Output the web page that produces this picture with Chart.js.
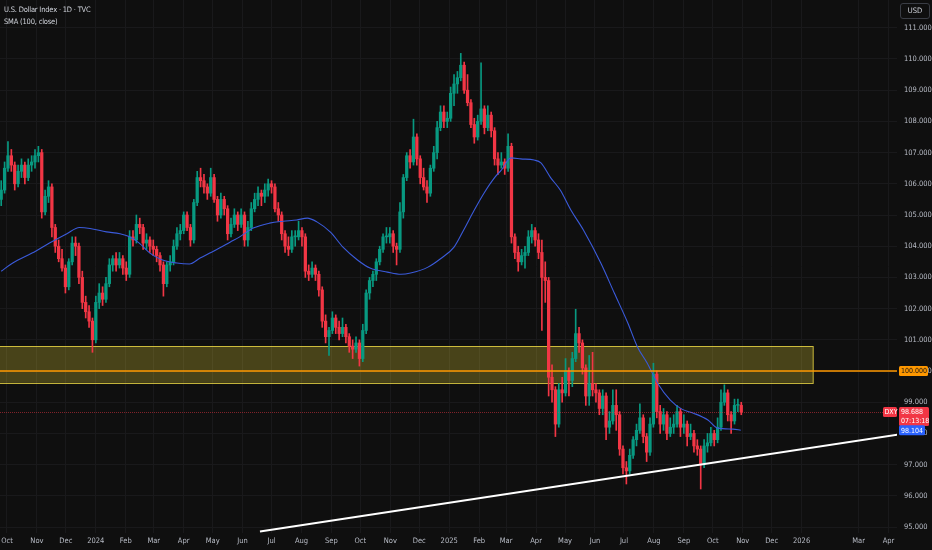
<!DOCTYPE html>
<html lang="en">

<head>
    <meta charset="UTF-8">
    <title>U.S. Dollar Index · 1D · TVC</title>
    <script src="https://cdn.jsdelivr.net/npm/chart.js"></script>
    <style>
        html,
        body {
            margin: 0;
            padding: 0;
            background: #0f0f0f;
        }

        .wrap {
            position: relative;
            width: 932px;
            height: 550px;
        }

        .legend {
            position: absolute;
            left: 4px;
            top: 4px;
            color: #d1d4dc;
            font-family: "DejaVu Sans Condensed", "Liberation Sans Narrow", "DejaVu Sans", sans-serif;
            font-stretch: condensed;
            font-size: 7.5px;
            letter-spacing: -0.2px;
            line-height: 12px;
        }

        .usd {
            position: absolute;
            left: 900px;
            top: 3px;
            width: 28px;
            height: 14px;
            border: 1px solid #3a3d45;
            border-radius: 3px;
            color: #d1d4dc;
            font-family: "DejaVu Sans Condensed", "Liberation Sans Narrow", "DejaVu Sans", sans-serif;
            font-stretch: condensed;
            font-size: 7.5px;
            line-height: 14px;
            text-align: center;
        }
    </style>
</head>

<body>
    <div class="wrap">
        <canvas id="dxyChart"></canvas>
        <div class="legend">U.S. Dollar Index · 1D · TVC<br>SMA (100, close)</div>
        <div class="usd">USD</div>
    </div>

    <script>
        // half-week candles, starting Mon 25 Sep 2023
        const firstCandle = '2023-09-25';
        const candleStep = 3.5;

        const opens = [
            105.5, 105.8, 106.5, 106.9, 106.6, 106.0, 106.4, 106.6, 106.2, 106.6,
            106.7, 106.9, 107.0, 105.1, 105.6, 105.9, 104.6, 104.0, 103.6, 103.3,
            102.7, 103.5, 104.1, 104.0, 103.0, 102.2, 101.9, 101.6, 101.0, 102.2,
            102.5, 102.3, 102.8, 103.4, 103.6, 103.4, 103.6, 103.3, 103.1, 104.3,
            104.2, 104.7, 104.6, 104.1, 104.2, 104.0, 103.9, 103.7, 103.4, 102.8,
            103.4, 103.5, 104.0, 104.4, 104.5, 105.0, 104.6, 104.2, 105.4, 106.2,
            106.1, 105.9, 105.7, 106.2, 105.5, 105.0, 105.5, 105.2, 104.4, 104.7,
            105.0, 104.7, 105.0, 104.2, 104.6, 105.2, 105.5, 105.7, 105.6, 105.8,
            106.0, 105.9, 105.2, 105.0, 104.4, 104.0, 103.9, 104.3, 104.3, 104.5,
            104.3, 103.2, 103.1, 103.3, 103.1, 102.6, 101.6, 101.1, 101.3, 101.7,
            101.4, 101.2, 101.4, 101.1, 100.8, 100.7, 100.9, 100.4, 101.3, 102.5,
            102.9, 103.1, 103.5, 103.9, 104.3, 104.3, 104.4, 104.0, 103.9, 105.1,
            106.2, 106.9, 106.7, 107.5, 106.8, 106.2, 105.9, 105.7, 106.5, 107.0,
            107.8, 108.3, 108.0, 108.1, 108.9, 109.2, 109.4, 109.8, 109.0, 108.6,
            107.9, 107.5, 108.0, 108.4, 107.8, 108.2, 107.7, 106.8, 106.6, 106.7,
            106.5, 107.2, 104.3, 103.8, 103.5, 103.7, 103.8, 104.3, 104.5, 104.2,
            103.8, 103.0, 102.9, 99.8, 99.4, 98.3, 99.4, 99.3, 100.0, 99.7,
            100.4, 101.2, 100.9, 100.1, 99.2, 99.6, 99.4, 99.3, 98.8, 99.2,
            98.2, 98.4, 98.9, 98.6, 97.5, 96.9, 96.8, 97.3, 97.8, 98.1,
            98.5, 97.9, 97.4, 98.3, 99.9, 98.7, 98.3, 98.6, 98.0, 98.2,
            98.3, 98.7, 98.2, 98.3, 97.9, 98.0, 97.6, 97.5, 97.0, 97.6,
            97.7, 98.0, 97.8, 98.2, 99.0, 99.3, 98.6, 98.4, 98.9, 98.9
        ];

        const highs = [
            106.1, 106.7, 107.35, 107.1, 106.7, 106.6, 106.8, 106.7, 106.8, 106.9,
            107.1, 107.2, 107.1, 105.8, 106.1, 106.0, 104.7, 104.2, 103.9, 103.4,
            103.6, 104.3, 104.3, 104.1, 103.2, 102.4, 102.1, 101.7, 102.4, 102.8,
            102.7, 103.0, 103.6, 103.7, 103.8, 103.8, 103.7, 103.5, 104.5, 104.5,
            105.0, 104.9, 104.7, 104.4, 104.3, 104.2, 104.0, 103.8, 103.5, 103.5,
            103.7, 104.2, 104.6, 104.7, 105.1, 105.1, 104.7, 105.5, 106.4, 106.5,
            106.3, 106.0, 106.5, 106.3, 105.6, 105.7, 105.6, 105.3, 104.9, 105.2,
            105.1, 105.2, 105.1, 104.8, 105.4, 105.7, 105.9, 105.8, 106.0, 106.15,
            106.1, 106.0, 105.4, 105.1, 104.5, 104.3, 104.5, 104.5, 104.8, 104.6,
            104.4, 103.4, 103.5, 103.4, 103.2, 102.7, 101.8, 101.4, 101.9, 101.8,
            101.6, 101.7, 101.5, 101.2, 101.0, 101.1, 101.0, 101.5, 102.6, 103.0,
            103.2, 103.6, 104.0, 104.4, 104.6, 104.6, 104.5, 104.1, 105.4, 106.3,
            107.0, 107.1, 108.07, 107.6, 106.9, 106.5, 106.1, 106.6, 107.2, 108.0,
            108.5, 108.5, 108.3, 109.1, 109.5, 109.6, 110.18, 109.9, 109.5, 108.7,
            108.1, 108.2, 109.88, 108.5, 108.5, 108.3, 107.8, 107.0, 107.0, 106.8,
            107.6, 107.3, 104.4, 104.0, 103.9, 104.0, 104.5, 104.7, 104.6, 104.4,
            104.2, 103.5, 103.0, 100.2, 99.5, 99.6, 99.8, 100.4, 100.1, 100.6,
            101.98, 101.4, 101.0, 100.2, 100.5, 100.6, 99.6, 99.4, 99.4, 99.3,
            98.7, 99.4, 99.4, 98.7, 97.6, 97.1, 97.5, 97.9, 98.3, 98.95,
            98.6, 98.0, 98.5, 100.25, 100.0, 98.9, 98.8, 98.7, 98.5, 98.6,
            98.9, 98.8, 98.6, 98.4, 98.3, 98.1, 97.8, 97.6, 97.8, 98.0,
            98.2, 98.1, 98.5, 99.4, 99.56, 99.4, 98.7, 99.1, 99.1, 99.0
        ];

        const lows = [
            105.3, 105.7, 106.4, 106.4, 105.8, 105.9, 106.2, 106.0, 106.1, 106.4,
            106.5, 106.7, 104.9, 105.0, 105.4, 104.3, 103.8, 103.5, 103.2, 102.5,
            102.6, 103.4, 103.7, 102.8, 102.0, 101.7, 101.4, 100.6, 100.9, 102.0,
            102.1, 102.2, 102.7, 103.2, 103.2, 103.3, 103.1, 102.9, 103.0, 104.0,
            104.1, 104.4, 103.9, 103.9, 103.8, 103.7, 103.5, 103.2, 102.4, 102.7,
            103.2, 103.4, 103.9, 104.2, 104.4, 104.5, 104.0, 104.1, 105.3, 105.9,
            105.7, 105.5, 105.6, 105.4, 104.8, 104.9, 105.0, 104.2, 104.3, 104.6,
            104.5, 104.6, 104.0, 104.0, 104.5, 105.1, 105.3, 105.3, 105.4, 105.6,
            105.7, 105.1, 104.8, 104.2, 103.8, 103.7, 103.8, 104.0, 104.2, 104.0,
            103.0, 102.9, 103.0, 102.9, 102.4, 101.4, 100.9, 100.5, 101.2, 101.2,
            101.0, 101.1, 100.9, 100.6, 100.4, 100.6, 100.16, 100.3, 101.2, 102.3,
            102.7, 102.9, 103.4, 103.8, 104.1, 104.1, 103.8, 103.4, 103.8, 104.9,
            106.1, 106.5, 106.6, 106.6, 106.0, 105.8, 105.4, 105.6, 106.4, 106.8,
            107.7, 107.8, 107.8, 108.0, 108.5, 108.9, 109.3, 108.9, 108.5, 107.8,
            107.3, 107.4, 107.9, 107.6, 107.7, 107.5, 106.6, 106.3, 106.5, 106.3,
            106.4, 104.1, 103.6, 103.2, 103.4, 103.3, 103.7, 104.1, 104.0, 103.6,
            101.3, 102.2, 99.2, 99.0, 97.9, 98.2, 99.0, 99.2, 99.2, 99.5,
            100.3, 100.6, 99.9, 98.9, 98.9, 99.2, 99.0, 98.6, 98.6, 97.8,
            98.0, 98.3, 98.1, 97.3, 96.7, 96.38, 96.7, 97.2, 97.6, 98.0,
            97.7, 97.1, 97.3, 98.2, 98.5, 98.0, 98.1, 97.8, 97.9, 98.0,
            98.2, 97.9, 98.0, 97.6, 97.8, 97.4, 97.3, 96.22, 96.9, 97.4,
            97.6, 97.6, 97.7, 98.1, 98.9, 98.4, 98.0, 98.3, 98.7, 98.6
        ];

        const closes = [
            105.8, 106.5, 106.9, 106.6, 106.0, 106.4, 106.6, 106.2, 106.6, 106.7,
            106.9, 107.0, 105.1, 105.6, 105.9, 104.6, 104.0, 103.6, 103.3, 102.7,
            103.5, 104.1, 104.0, 103.0, 102.2, 101.9, 101.6, 101.0, 102.2, 102.5,
            102.3, 102.8, 103.4, 103.6, 103.4, 103.6, 103.3, 103.1, 104.3, 104.2,
            104.7, 104.6, 104.1, 104.2, 104.0, 103.9, 103.7, 103.4, 102.8, 103.4,
            103.5, 104.0, 104.4, 104.5, 105.0, 104.6, 104.2, 105.4, 106.2, 106.1,
            105.9, 105.7, 106.2, 105.5, 105.0, 105.5, 105.2, 104.4, 104.7, 105.0,
            104.7, 105.0, 104.2, 104.6, 105.2, 105.5, 105.7, 105.6, 105.8, 106.0,
            105.9, 105.2, 105.0, 104.4, 104.0, 103.9, 104.3, 104.3, 104.5, 104.3,
            103.2, 103.1, 103.3, 103.1, 102.6, 101.6, 101.1, 101.3, 101.7, 101.4,
            101.2, 101.4, 101.1, 100.8, 100.7, 100.9, 100.4, 101.3, 102.5, 102.9,
            103.1, 103.5, 103.9, 104.3, 104.3, 104.4, 104.0, 103.9, 105.1, 106.2,
            106.9, 106.7, 107.5, 106.8, 106.2, 105.9, 105.7, 106.5, 107.0, 107.8,
            108.3, 108.0, 108.1, 108.9, 109.2, 109.4, 109.8, 109.0, 108.6, 107.9,
            107.5, 108.0, 108.4, 107.8, 108.2, 107.7, 106.8, 106.6, 106.7, 106.5,
            107.2, 104.3, 103.8, 103.5, 103.7, 103.8, 104.3, 104.5, 104.2, 103.8,
            103.0, 102.9, 99.8, 99.4, 98.3, 99.4, 99.3, 100.0, 99.7, 100.4,
            101.2, 100.9, 100.1, 99.2, 99.6, 99.4, 99.3, 98.8, 99.2, 98.2,
            98.4, 98.9, 98.6, 97.5, 96.9, 96.8, 97.3, 97.8, 98.1, 98.5,
            97.9, 97.4, 98.3, 99.9, 98.7, 98.3, 98.6, 98.0, 98.2, 98.3,
            98.7, 98.2, 98.3, 97.9, 98.0, 97.6, 97.5, 97.0, 97.6, 97.7,
            98.0, 97.8, 98.2, 99.0, 99.3, 98.6, 98.4, 98.9, 98.9, 98.688
        ];

        // SMA(100)
        const smaDates = [
            '2023-09-25', '2023-10-07', '2023-10-27', '2023-11-14', '2023-12-02', '2023-12-15', '2023-12-26',
            '2024-01-12', '2024-01-26', '2024-02-05', '2024-02-15', '2024-02-26', '2024-03-10', '2024-03-25',
            '2024-04-07', '2024-04-18', '2024-04-28', '2024-05-08', '2024-05-19', '2024-05-29', '2024-06-12',
            '2024-06-29', '2024-07-13', '2024-07-27', '2024-08-07', '2024-08-17', '2024-08-31', '2024-09-13',
            '2024-09-28', '2024-10-11', '2024-10-29', '2024-11-12', '2024-11-22', '2024-12-10', '2024-12-23',
            '2025-01-06', '2025-01-16', '2025-01-27', '2025-02-06', '2025-02-17', '2025-02-24', '2025-03-06',
            '2025-03-16', '2025-03-30', '2025-04-06', '2025-04-16', '2025-04-26', '2025-05-07', '2025-05-20',
            '2025-06-07', '2025-06-21', '2025-07-05', '2025-07-15', '2025-07-25', '2025-08-05', '2025-08-18',
            '2025-08-30', '2025-09-11', '2025-09-26', '2025-10-06', '2025-10-22', '2025-10-30'
        ];
        const smaValues = [
            103.20, 103.46, 103.78, 104.10, 104.40, 104.60, 104.57,
            104.46, 104.40, 104.30, 104.10, 103.78, 103.56, 103.46,
            103.43, 103.62, 103.78, 103.94, 104.13, 104.30, 104.58,
            104.74, 104.80, 104.84, 104.90, 104.78, 104.45, 103.97,
            103.56, 103.30, 103.17, 103.10, 103.14, 103.33, 103.60,
            103.97, 104.52, 105.16, 105.70, 106.20, 106.44, 106.83,
            106.80, 106.76, 106.67, 106.20, 105.80, 105.16, 104.52,
            103.46, 102.50, 101.54, 100.77, 100.26, 99.60, 99.07,
            98.78, 98.65, 98.43, 98.17, 98.14, 98.104
        ];

        // rising support line
        const trendDates = ['2024-06-19', '2026-04-10'];
        const trendValues = [94.86, 97.96];

        // supply zone and round number level
        const zoneTop = 100.80;
        const zoneBottom = 99.62;
        const zoneEnd = '2026-01-13';
        const levelPrice = 100.0;

        const tickDates = [
            '2023-10-01', '2023-11-01', '2023-12-01', '2024-01-01', '2024-02-01', '2024-03-01', '2024-04-01',
            '2024-05-01', '2024-06-01', '2024-07-01', '2024-08-01', '2024-09-01', '2024-10-01', '2024-11-01',
            '2024-12-01', '2025-01-01', '2025-02-01', '2025-03-01', '2025-04-01', '2025-05-01', '2025-06-01',
            '2025-07-01', '2025-08-01', '2025-09-01', '2025-10-01', '2025-11-01', '2025-12-01', '2026-01-01',
            '2026-03-01', '2026-04-01'
        ];
        const tickLabels = [
            'Oct', 'Nov', 'Dec', '2024', 'Feb', 'Mar', 'Apr', 'May', 'Jun', 'Jul', 'Aug', 'Sep', 'Oct', 'Nov',
            'Dec', '2025', 'Feb', 'Mar', 'Apr', 'May', 'Jun', 'Jul', 'Aug', 'Sep', 'Oct', 'Nov', 'Dec', '2026',
            'Mar', 'Apr'
        ];
        const priceTicks = [95, 96, 97, 98, 99, 100, 101, 102, 103, 104, 105, 106, 107, 108, 109, 110, 111];

        const UP = '#089981';
        const DOWN = '#f23645';
        const FONT = '"DejaVu Sans Condensed", "Liberation Sans Narrow", "DejaVu Sans", sans-serif';
        const TEXT = '#b8bcc6';
        const GRID = '#19191b';

        // days since 1 Oct 2023
        function dayOf(s) {
            const [y, m, d] = s.split('-').map(Number);
            return (Date.UTC(y, m - 1, d) - Date.UTC(2023, 9, 1)) / 864e5;
        }
        const candleDay = i => dayOf(firstCandle) + i * candleStep;
        const colors = closes.map((c, i) => c >= opens[i] ? UP : DOWN);

        const wickData = closes.map((c, i) => ({ x: candleDay(i), y: [lows[i], highs[i]] }));
        const bodyData = closes.map((c, i) => ({ x: candleDay(i), y: [opens[i], c] }));
        const smaData = smaDates.map((d, i) => ({ x: dayOf(d), y: smaValues[i] }));
        const trendData = trendDates.map((d, i) => ({ x: dayOf(d), y: trendValues[i] }));

        function tag(ctx, left, top, w, h, bg) {
            ctx.fillStyle = bg;
            ctx.beginPath();
            ctx.roundRect(left, top, w, h, 1.5);
            ctx.fill();
        }

        const overlay = {
            id: 'overlay',
            beforeDatasetsDraw(chart) {
                const { ctx, chartArea: a, scales: { x, y } } = chart;
                const x2 = x.getPixelForValue(dayOf(zoneEnd));
                const y1 = y.getPixelForValue(zoneTop);
                const y2 = y.getPixelForValue(zoneBottom);
                ctx.save();
                ctx.fillStyle = 'rgba(255, 235, 59, 0.24)';
                ctx.fillRect(a.left - 2, y1, x2 - a.left + 2, y2 - y1);
                ctx.strokeStyle = 'rgba(240, 220, 70, 0.8)';
                ctx.lineWidth = 1;
                ctx.strokeRect(a.left - 2, Math.round(y1) + 0.5, x2 - a.left + 2, Math.round(y2 - y1));
                ctx.restore();
            },
            afterDatasetsDraw(chart) {
                const { ctx, chartArea: a, scales: { y } } = chart;
                ctx.save();
                // 100.000 level
                const ly = y.getPixelForValue(levelPrice);
                ctx.strokeStyle = '#ff9800';
                ctx.lineWidth = 1.5;
                ctx.beginPath();
                ctx.moveTo(a.left, ly);
                ctx.lineTo(a.right, ly);
                ctx.stroke();
                // last price line
                const py = Math.round(y.getPixelForValue(closes[closes.length - 1])) + 0.5;
                ctx.strokeStyle = 'rgba(242, 54, 69, 0.5)';
                ctx.lineWidth = 1;
                ctx.setLineDash([1, 1]);
                ctx.beginPath();
                ctx.moveTo(a.left, py);
                ctx.lineTo(a.right, py);
                ctx.stroke();
                ctx.restore();
            },
            afterDraw(chart) {
                const { ctx, chartArea: a, scales: { y } } = chart;
                const last = closes[closes.length - 1];
                const sma = smaValues[smaValues.length - 1];
                ctx.save();
                ctx.font = '7px ' + FONT;
                ctx.textBaseline = 'middle';
                ctx.textAlign = 'left';

                const ly = y.getPixelForValue(levelPrice);
                tag(ctx, a.right + 2, ly - 5, 29, 10, '#ff9800');
                ctx.fillStyle = '#131313';
                ctx.fillText(levelPrice.toFixed(3), a.right + 4, ly + 0.5);

                const py = y.getPixelForValue(last);
                tag(ctx, a.right - 14, py - 5, 14, 10, DOWN);
                tag(ctx, a.right + 2, py - 5, 30, 19, DOWN);
                ctx.fillStyle = '#ffffff';
                ctx.fillText('DXY', a.right - 12.5, py + 0.5);
                ctx.fillText(last.toFixed(3), a.right + 4, py + 0.5);
                ctx.fillText('07:13:18', a.right + 4, py + 9.5);

                const sy = y.getPixelForValue(sma);
                tag(ctx, a.right + 2, sy - 5, 26, 10, '#2962ff');
                ctx.fillStyle = '#ffffff';
                ctx.fillText(sma.toFixed(3), a.right + 4, sy + 0.5);
                ctx.restore();
            }
        };

        const ctx = document.getElementById('dxyChart').getContext('2d');
        new Chart(ctx, {
            type: 'bar',
            data: {
                datasets: [{
                    type: 'line',
                    label: 'Trend',
                    data: trendData,
                    borderColor: '#ffffff',
                    borderWidth: 2,
                    pointRadius: 0
                }, {
                    type: 'line',
                    label: 'SMA (100, close)',
                    data: smaData,
                    borderColor: '#3b5bdb',
                    borderWidth: 1.1,
                    pointRadius: 0,
                    cubicInterpolationMode: 'monotone'
                }, {
                    label: 'Body',
                    data: bodyData,
                    backgroundColor: colors,
                    barThickness: 2.6,
                    minBarLength: 1,
                    grouped: false
                }, {
                    label: 'Wick',
                    data: wickData,
                    backgroundColor: colors,
                    barThickness: 1,
                    grouped: false
                }]
            },
            options: {
                responsive: true,
                maintainAspectRatio: false,
                animation: false,
                layout: { padding: 0 },
                plugins: {
                    legend: { display: false },
                    tooltip: { enabled: false }
                },
                scales: {
                    x: {
                        type: 'linear',
                        min: -7.25,
                        max: 921.8,
                        offset: false,
                        grid: { color: GRID, offset: false, drawTicks: false },
                        border: { display: false },
                        afterBuildTicks: s => { s.ticks = tickDates.map(d => ({ value: dayOf(d) })); },
                        afterFit: s => { s.height = 17; s.paddingLeft = 0; s.paddingRight = 0; },
                        ticks: {
                            autoSkip: false,
                            maxRotation: 0,
                            padding: 4,
                            color: TEXT,
                            font: { family: FONT, size: 7.5 },
                            callback: (v, i) => tickLabels[i]
                        }
                    },
                    y: {
                        position: 'right',
                        min: 94.81,
                        max: 111.89,
                        beginAtZero: false,
                        grid: { color: GRID, drawTicks: false },
                        border: { display: false },
                        afterBuildTicks: s => { s.ticks = priceTicks.map(v => ({ value: v })); },
                        afterFit: s => { s.width = 35; s.paddingTop = 0; s.paddingBottom = 0; },
                        ticks: {
                            padding: 7,
                            color: TEXT,
                            font: { family: FONT, size: 7.5 },
                            callback: v => v.toFixed(3)
                        }
                    }
                }
            },
            plugins: [overlay]
        });
    </script>
</body>

</html>
